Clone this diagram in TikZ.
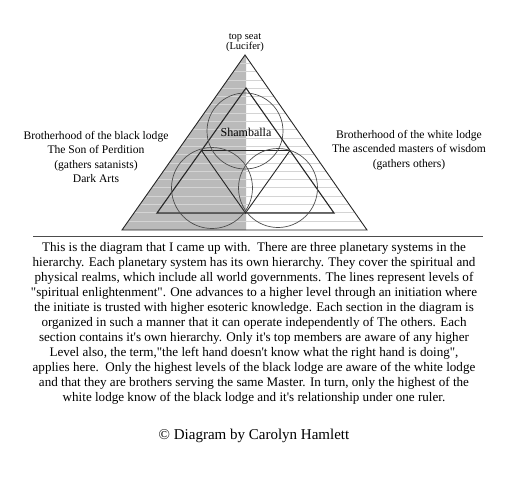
\documentclass[tikz,border=0pt]{standalone}
\usepackage{fontspec}
\setmainfont{Liberation Serif}[Ligatures=TeXOff]
\usetikzlibrary{calc}
\definecolor{lodgegrey}{RGB}{186,186,186}
\definecolor{levelgrey}{RGB}{212,212,212}
\tikzset{
    edge/.style={draw=black!85, line width=0.9pt},
    ring/.style={draw=black!70, line width=0.7pt},
    level/.style={draw=levelgrey, line width=0.7pt},
    label/.style={align=center, inner sep=0pt},
}

\begin{document}
\begin{tikzpicture}[x=1pt,y=-1pt]
    \useasboundingbox (0,0) rectangle (509,482);

    % outer pyramid
    \coordinate (apex) at (245,55);
    \coordinate (bl) at (122,230);
    \coordinate (br) at (367,230);
    \fill[lodgegrey] (apex) -- (bl) -- (246,230) -- (246,55) -- cycle;
    \begin{scope}
        \clip (apex) -- (bl) -- (br) -- cycle;
        \foreach \k in {1,...,20}
            \draw[level] (100,55+8.3*\k) -- (400,55+8.3*\k);
    \end{scope}
    \draw[edge] (apex) -- (bl) -- (br) -- cycle;

    % inner triangles
    \coordinate (ia) at (246,88);
    \coordinate (il) at (157,213);
    \coordinate (ir) at (334,213);
    \draw[edge, line width=1.1pt] (ia) -- (il) -- (ir) -- cycle;
    \draw[edge] ($(ia)!0.5!(il)$) -- ($(ia)!0.5!(ir)$) -- ($(il)!0.5!(ir)$) -- cycle;

    % three circles
    \draw[ring] (245,131) circle (38);
    \draw[ring] (212,188) circle (40.5);
    \draw[ring] (278,188) circle (39.5);

    \node[label, font=\fontsize{12}{14}\selectfont] (shamballa) at (246,132) {Shamballa};
    \node[label, font=\fontsize{10.5}{10}\selectfont] (seat) at (245,42.5) {top seat\\(Lucifer)};
    \node[label, font=\fontsize{11.6}{14.5}\selectfont] (black) at (96,157)
        {Brotherhood of the black lodge\\The Son of Perdition\\(gathers satanists)\\Dark Arts};
    \node[label, font=\fontsize{11.6}{14.5}\selectfont] (white) at (409,150)
        {Brotherhood of the white lodge\\The ascended masters of wisdom\\(gathers others)};

    \draw[draw=black!70, line width=1pt] (33,236) -- (483,236);

    \node[label, font=\fontsize{13.1}{15}\selectfont] (story) at (254,323)
        {This is the diagram that I came up with.\ \ There are three planetary systems in the\\
         hierarchy. Each planetary system has its own hierarchy. They cover the spiritual and\\
         physical realms, which include all world governments. The lines represent levels of\\
         "spiritual enlightenment". One advances to a higher level through an initiation where\\
         the initiate is trusted with higher esoteric knowledge. Each section in the diagram is\\
         organized in such a manner that it can operate independently of The others. Each\\
         section contains it's own hierarchy. Only it's top members are aware of any higher\\
         Level also, the term,"the left hand doesn't know what the right hand is doing",\\
         applies here.\ \ Only the highest levels of the black lodge are aware of the white lodge\\
         and that they are brothers serving the same Master. In turn, only the highest of the\\
         white lodge know of the black lodge and it's relationship under one ruler.};

    \node[label, font=\fontsize{15}{16}\selectfont] (credit) at (254,436) {© Diagram by Carolyn Hamlett};
\end{tikzpicture}
\end{document}
